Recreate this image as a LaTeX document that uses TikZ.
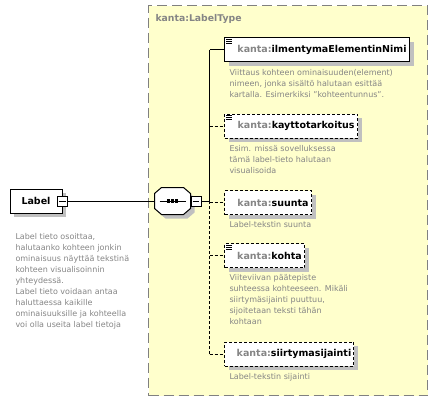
\documentclass[tikz,border=0pt]{standalone}
\usepackage{fontspec}
\setmainfont{DejaVu Sans}
\usetikzlibrary{positioning}
\usetikzlibrary{shadows}
\definecolor{typefill}{HTML}{FFFFCC}
\definecolor{docgray}{HTML}{858585}
\definecolor{shadowgray}{HTML}{C0C0C0}
\newcommand{\pfx}{\textcolor{docgray}{kanta:}}
\newcommand{\docsize}{\fontsize{8}{11}\selectfont}
\tikzset{
shade/.style={
  drop shadow={shadow xshift=4pt,shadow yshift=-4pt,fill=shadowgray,opacity=1}
  },
el/.style={
  rectangle,
  draw=black,
  fill=white,
  shade,
  line width=1pt,
  minimum height=24pt,
  inner xsep=0pt,
  anchor=west,
  font=\bfseries\fontsize{9.5}{11}\selectfont
  },
optel/.style={
  el,
  dash pattern=on 3pt off 2pt
  },
doc/.style={
  anchor=north west,
  inner sep=0pt,
  align=left,
  text=docgray,
  font=\docsize
  },
minus/.style={
  rectangle,
  draw=black,
  fill=white,
  line width=0.8pt,
  minimum size=10pt,
  inner sep=0pt
  },
dashconn/.style={dash pattern=on 3pt off 2pt}
}
\newcommand{\docicon}[1]{%
  \foreach \dy in {2,4,6} \draw[line width=0.8pt] ([xshift=2pt,yshift=-\dy pt]#1.north west) -- ++(6pt,0);}
\begin{document}
\begin{tikzpicture}[x=1pt,y=-1pt,line width=1pt]
\useasboundingbox (0,0) rectangle (438,401);
% complex type box
\node[rectangle,draw=gray,fill=typefill,dash pattern=on 10pt off 5pt,line width=1.3pt,
      minimum width=279pt,minimum height=390pt,anchor=north west] (type) at (148,5) {};
\node[anchor=west,inner sep=0pt,text=docgray,font=\bfseries\fontsize{9.3}{11}\selectfont]
      (title) at (155,19) {kanta:LabelType};
% root element
\node[el,anchor=center,minimum width=52pt] (label) at (36,201) {Label};
\node[minus] (lm) at (label.east) {};
\draw[line width=0.8pt] ([xshift=2pt]lm.west) -- ([xshift=-2pt]lm.east);
\node[doc] (labeldoc) at (15,233) {Label tieto osoittaa,\\halutaanko kohteen jonkin\\ominaisuus näyttää tekstinä\\kohteen visualisoinnin\\yhteydessä.\\Label tieto voidaan antaa\\haluttaessa kaikille\\ominaisuuksille ja kohteella\\voi olla useita label tietoja};
% sequence
\node[minimum width=35pt,minimum height=26pt,inner sep=0pt] (seq) at (172.5,201) {};
\draw[fill=white,shade] ([xshift=7pt]seq.north west) -- ([xshift=-7pt]seq.north east)
  -- ([yshift=-6pt]seq.north east) -- ([yshift=6pt]seq.south east)
  -- ([xshift=-7pt]seq.south east) -- ([xshift=7pt]seq.south west)
  -- ([yshift=6pt]seq.south west) -- ([yshift=-6pt]seq.north west) -- cycle;
\draw ([xshift=5pt]seq.west) -- ([xshift=-5pt]seq.east);
\foreach \dx in {-4,0,4}
  \fill ([xshift=\dx pt]seq.center) +(-1.6,-1.6) rectangle +(1.6,1.6);
\node[minus,anchor=west] (sm) at (seq.east) {};
\draw[line width=0.8pt] ([xshift=2pt]sm.west) -- ([xshift=-2pt]sm.east);
\coordinate (bus) at (209.5,201);
% children
\node[el,minimum width=185pt] (e1) at (224,50) {\hspace{10pt}\pfx ilmentymaElementinNimi\hspace{6pt}};
\node[optel,minimum width=133pt] (e2) at (224,126) {\hspace{10pt}\pfx kayttotarkoitus\hfill};
\node[optel,minimum width=87pt] (e3) at (224,202.5) {\hspace{10pt}\pfx suunta\hfill};
\node[optel,minimum width=80pt] (e4) at (224,255.5) {\hspace{10pt}\pfx kohta\hfill};
\node[optel,minimum width=129pt] (e5) at (224,354) {\hspace{10pt}\pfx siirtymasijainti\hfill};
\docicon{e1}
\docicon{e2}
\docicon{e4}
\node[doc] (d1) at ([xshift=5pt,yshift=-6pt]e1.south west) {Viittaus kohteen ominaisuuden(element)\\nimeen, jonka sisältö halutaan esittää\\kartalla. Esimerkiksi "kohteentunnus".};
\node[doc] (d2) at ([xshift=5pt,yshift=-6pt]e2.south west) {Esim. missä sovelluksessa\\tämä label-tieto halutaan\\visualisoida};
\node[doc] (d3) at ([xshift=5pt,yshift=-6pt]e3.south west) {Label-tekstin suunta};
\node[doc] (d4) at ([xshift=5pt,yshift=-6pt]e4.south west) {Viiteviivan päätepiste\\suhteessa kohteeseen. Mikäli\\siirtymäsijainti puuttuu,\\sijoitetaan teksti tähän\\kohtaan};
\node[doc] (d5) at ([xshift=5pt,yshift=-6pt]e5.south west) {Label-tekstin sijainti};
% connectors
\draw (lm.east) -- (seq.west);
\draw (sm.east) -- (bus);
\draw (bus |- e1.west) -- (bus);
\draw[dashconn] (bus) -- (bus |- e5.west);
\draw (bus |- e1.west) -- (e1.west);
\foreach \n in {e2,e3,e4,e5}
  \draw[dashconn] (bus |- \n.west) -- (\n.west);
\end{tikzpicture}
\end{document}
